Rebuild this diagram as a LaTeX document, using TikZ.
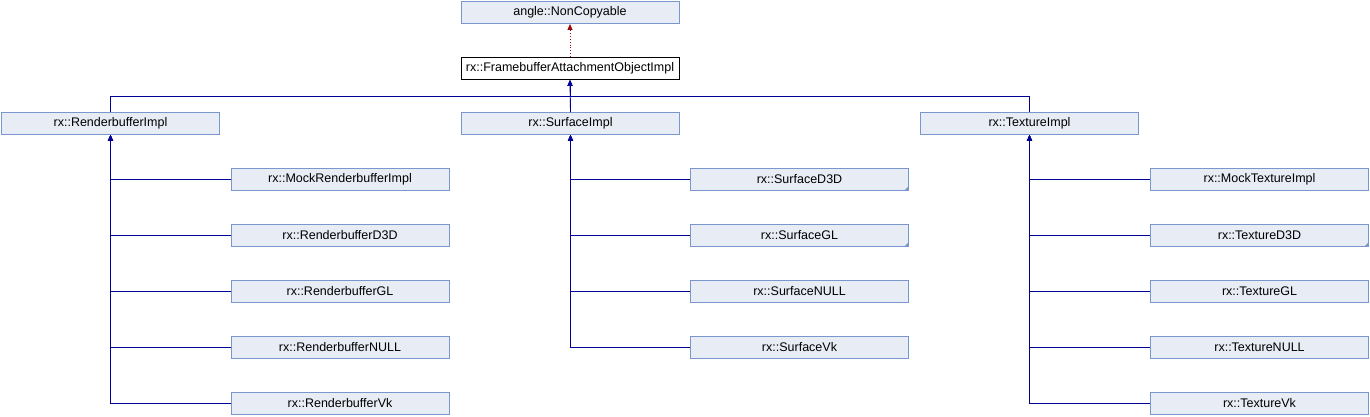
\documentclass[tikz,border=0pt]{standalone}
\usepackage{fontspec}
\setmainfont{Liberation Sans}
\usetikzlibrary{arrows.meta}
\definecolor{boxfill}{RGB}{232,236,245}
\definecolor{boxline}{RGB}{122,150,206}
\definecolor{edge}{RGB}{0,0,150}
\definecolor{dep}{RGB}{155,10,10}
\tikzset{
  cls/.style={draw=boxline, fill=boxfill, line width=0.9pt, minimum width=218pt, minimum height=22pt, inner sep=0pt, font=\fontsize{12.5}{14}\selectfont},
  curcls/.style={cls, draw=black, fill=white},
  inh/.style={draw=edge, line width=0.9pt, -{Triangle[width=5pt,length=6pt]}},
  usedep/.style={draw=dep, line width=0.9pt, dotted, -{Triangle[width=5pt,length=6pt]}},
  corner/.style={fill=boxline}
}
\begin{document}
\begin{tikzpicture}[x=1pt,y=-1pt]
\useasboundingbox (0,0) rectangle (1370,416);
\node[cls] (nc) at (570,12.5) {angle::NonCopyable};
\node[curcls] (fa) at (570,68.5) {rx::FramebufferAttachmentObjectImpl};
\node[cls] (rb) at (110.5,123.5) {rx::RenderbufferImpl};
\node[cls] (sf) at (570.5,123.5) {rx::SurfaceImpl};
\node[cls] (tx) at (1029.5,123.5) {rx::TextureImpl};
% renderbuffer children
\node[cls] (rb1) at (340,179.5) {rx::MockRenderbufferImpl};
\node[cls] (rb2) at (340,235.5) {rx::RenderbufferD3D};
\node[cls] (rb3) at (340,291.5) {rx::RenderbufferGL};
\node[cls] (rb4) at (340,347.5) {rx::RenderbufferNULL};
\node[cls] (rb5) at (340,403.5) {rx::RenderbufferVk};
% surface children
\node[cls] (sf1) at (799.5,179.5) {rx::SurfaceD3D};
\node[cls] (sf2) at (799.5,235.5) {rx::SurfaceGL};
\node[cls] (sf3) at (799.5,291.5) {rx::SurfaceNULL};
\node[cls] (sf4) at (799.5,347.5) {rx::SurfaceVk};
% texture children
\node[cls] (tx1) at (1259.5,179.5) {rx::MockTextureImpl};
\node[cls] (tx2) at (1259.5,235.5) {rx::TextureD3D};
\node[cls] (tx3) at (1259.5,291.5) {rx::TextureGL};
\node[cls] (tx4) at (1259.5,347.5) {rx::TextureNULL};
\node[cls] (tx5) at (1259.5,403.5) {rx::TextureVk};
% corner marks
\foreach \n in {sf1,sf2,tx2}{
  \fill[corner] (\n.south east) -- ++(-5,0) -- ++(5,-5) -- cycle;
}
% dependency
\draw[usedep] (fa.north) -- (nc.south);
% inheritance to FAOI
\coordinate (bus) at (570,96);
\draw[inh] (rb.north) |- (bus) -- (fa.south);
\draw[inh] (tx.north) |- (bus) -- (fa.south);
\draw[inh] (sf.north) -- (fa.south);
% children
\foreach \c in {rb1,rb2,rb3,rb4,rb5}{ \draw[inh] (\c.west) -| (rb.south); }
\foreach \c in {sf1,sf2,sf3,sf4}{ \draw[inh] (\c.west) -| (sf.south); }
\foreach \c in {tx1,tx2,tx3,tx4,tx5}{ \draw[inh] (\c.west) -| (tx.south); }
\end{tikzpicture}
\end{document}
